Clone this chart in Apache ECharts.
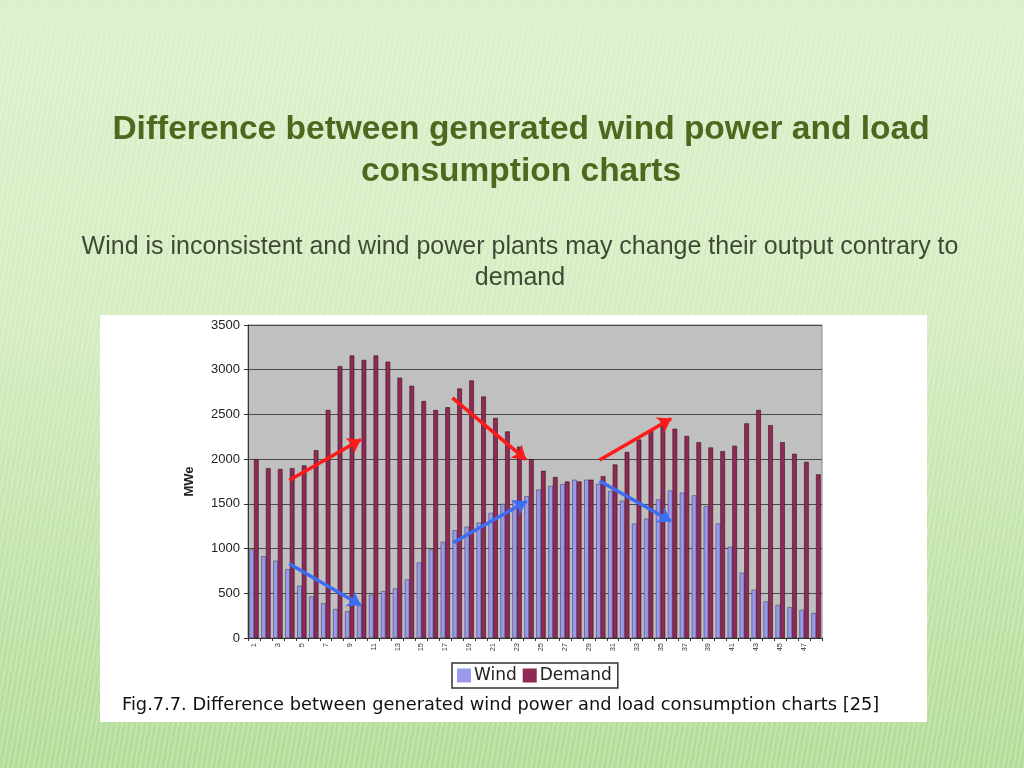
<!DOCTYPE html>
<html>
<head>
<meta charset="utf-8">
<script src="https://cdn.jsdelivr.net/npm/echarts@6/dist/echarts.min.js"></script>
<style>
  html, body {
    margin: 0;
    padding: 0;
  }
  body {
    width: 1024px;
    height: 768px;
    background:
      linear-gradient(to bottom, rgba(221, 240, 204, 1) 0px, rgba(221, 240, 204, 0) 60px),
      repeating-linear-gradient(100deg, rgba(255, 255, 255, 0.2) 0px, rgba(255, 255, 255, 0.2) 2px, rgba(255, 255, 255, 0) 2px, rgba(255, 255, 255, 0) 5px),
      linear-gradient(to bottom, #ddf0cc 0%, #d5edc1 40%, #b3dc98 100%);
  }
  #chart {
    width: 1024px;
    height: 768px;
  }
</style>
</head>
<body>
<div id="chart"></div>
<script>
  // hours 1..48
  const hours = [];
  for (let i = 1; i <= 48; i++) hours.push(String(i));

  const wind = [990, 915, 865, 770, 585, 465, 390, 325, 300, 365,
    485, 525, 555, 655, 845, 990, 1075, 1205, 1245, 1290,
    1400, 1500, 1535, 1585, 1660, 1700, 1720, 1770, 1770, 1725,
    1645, 1535, 1280, 1335, 1550, 1650, 1625, 1595, 1475, 1280,
    1020, 730, 540, 410, 370, 345, 315, 280];

  const demand = [2000, 1900, 1890, 1900, 1930, 2100, 2550, 3040, 3160, 3110,
    3160, 3090, 2910, 2820, 2650, 2550, 2580, 2790, 2880, 2700,
    2460, 2310, 2140, 2000, 1870, 1800, 1750, 1750, 1770, 1810,
    1940, 2080, 2220, 2320, 2450, 2340, 2260, 2190, 2130, 2090,
    2150, 2400, 2550, 2380, 2190, 2060, 1970, 1830];

  // annotation arrows, [hour, MWe] start and end
  const redArrows = [
    [[3.95, 1765], [9.95, 2220]],
    [[17.6, 2685], [23.75, 1995]],
    [[29.9, 1990], [35.9, 2455]]
  ];
  const blueArrows = [
    [[3.95, 830], [9.95, 367]],
    [[17.65, 1065], [23.8, 1530]],
    [[29.9, 1755], [35.9, 1305]]
  ];

  const chart = echarts.init(document.getElementById('chart'));

  const option = {
    backgroundColor: 'transparent',
    animation: false,
    title: [{
      text: 'Difference between generated wind power and load\nconsumption charts',
      left: 521,
      top: 109,
      padding: 0,
      textAlign: 'center',
      textStyle: {
        fontFamily: 'Liberation Sans',
        fontSize: 33.5,
        fontWeight: 'bold',
        color: '#4b6a1f',
        lineHeight: 42
      }
    }, {
      text: 'Wind is inconsistent and wind power plants may change their output contrary to\ndemand',
      left: 520,
      top: 232,
      padding: 0,
      textAlign: 'center',
      textStyle: {
        fontFamily: 'Liberation Sans',
        fontSize: 25,
        fontWeight: 'normal',
        color: '#3f4a35',
        lineHeight: 31
      }
    }, {
      text: 'Fig.7.7. Difference between generated wind power and load consumption charts [25]',
      left: 122,
      top: 696,
      padding: 0,
      textStyle: {
        fontFamily: 'DejaVu Sans',
        fontSize: 17.8,
        fontWeight: 'normal',
        color: '#111'
      }
    }],
    graphic: [{
      type: 'rect',
      z: -100,
      shape: { x: 100, y: 315, width: 827, height: 407 },
      style: { fill: '#ffffff' }
    }],
    legend: {
      data: ['Wind', 'Demand'],
      icon: 'rect',
      left: 452,
      top: 663,
      itemWidth: 14,
      itemHeight: 14,
      itemGap: 6,
      padding: [4, 6, 4, 5],
      borderColor: '#333',
      borderWidth: 1.5,
      backgroundColor: '#fff',
      itemStyle: { borderWidth: 0 },
      textStyle: {
        fontFamily: 'DejaVu Sans',
        fontSize: 17,
        color: '#222',
        padding: [0, 0, 0, -2]
      }
    },
    grid: {
      left: 248,
      top: 325,
      width: 574,
      height: 313,
      show: true,
      backgroundColor: '#c0c0c0',
      borderColor: '#8a8a8a',
      borderWidth: 1
    },
    xAxis: [{
      type: 'category',
      data: hours,
      axisLine: { lineStyle: { color: '#333', width: 1 } },
      axisTick: { show: true, interval: 0, length: 3, lineStyle: { color: '#333' } },
      axisLabel: {
        interval: 1,
        rotate: 90,
        fontSize: 7.5,
        color: '#333',
        margin: 5
      },
      splitLine: { show: false }
    }, {
      type: 'value',
      min: 0.5,
      max: 48.5,
      show: false
    }],
    yAxis: {
      type: 'value',
      min: 0,
      max: 3500,
      interval: 500,
      name: 'MWe',
      nameLocation: 'middle',
      nameGap: 52,
      nameRotate: 90,
      nameTextStyle: {
        fontFamily: 'Liberation Sans',
        fontSize: 13,
        fontWeight: 'bold',
        color: '#222'
      },
      axisLine: { show: true, lineStyle: { color: '#333', width: 1 } },
      axisTick: { show: true, length: 4, lineStyle: { color: '#333' } },
      axisLabel: {
        fontFamily: 'Liberation Sans',
        fontSize: 13,
        color: '#222',
        margin: 8,
        formatter: function (v) { return String(v); }
      },
      splitLine: { lineStyle: { color: '#4a4a4a', width: 1 } }
    },
    series: [{
      name: 'Wind',
      type: 'bar',
      data: wind,
      barGap: '0%',
      barCategoryGap: '22%',
      itemStyle: {
        color: '#9999ee',
        borderColor: '#444466',
        borderWidth: 0.6
      }
    }, {
      name: 'Demand',
      type: 'bar',
      data: demand,
      itemStyle: {
        color: '#8e2a55',
        borderColor: '#3a0f22',
        borderWidth: 0.6
      }
    }, {
      name: 'up',
      type: 'lines',
      coordinateSystem: 'cartesian2d',
      xAxisIndex: 1,
      yAxisIndex: 0,
      z: 10,
      symbol: ['none', 'arrow'],
      symbolSize: 13,
      lineStyle: { color: '#ff1a1a', width: 3.5, opacity: 1 },
      data: redArrows.map(function (c) { return { coords: c }; })
    }, {
      name: 'down',
      type: 'lines',
      coordinateSystem: 'cartesian2d',
      xAxisIndex: 1,
      yAxisIndex: 0,
      z: 10,
      symbol: ['none', 'arrow'],
      symbolSize: 13,
      lineStyle: { color: '#3c6df2', width: 3.5, opacity: 1 },
      data: blueArrows.map(function (c) { return { coords: c }; })
    }]
  };

  chart.setOption(option);
</script>
</body>
</html>
